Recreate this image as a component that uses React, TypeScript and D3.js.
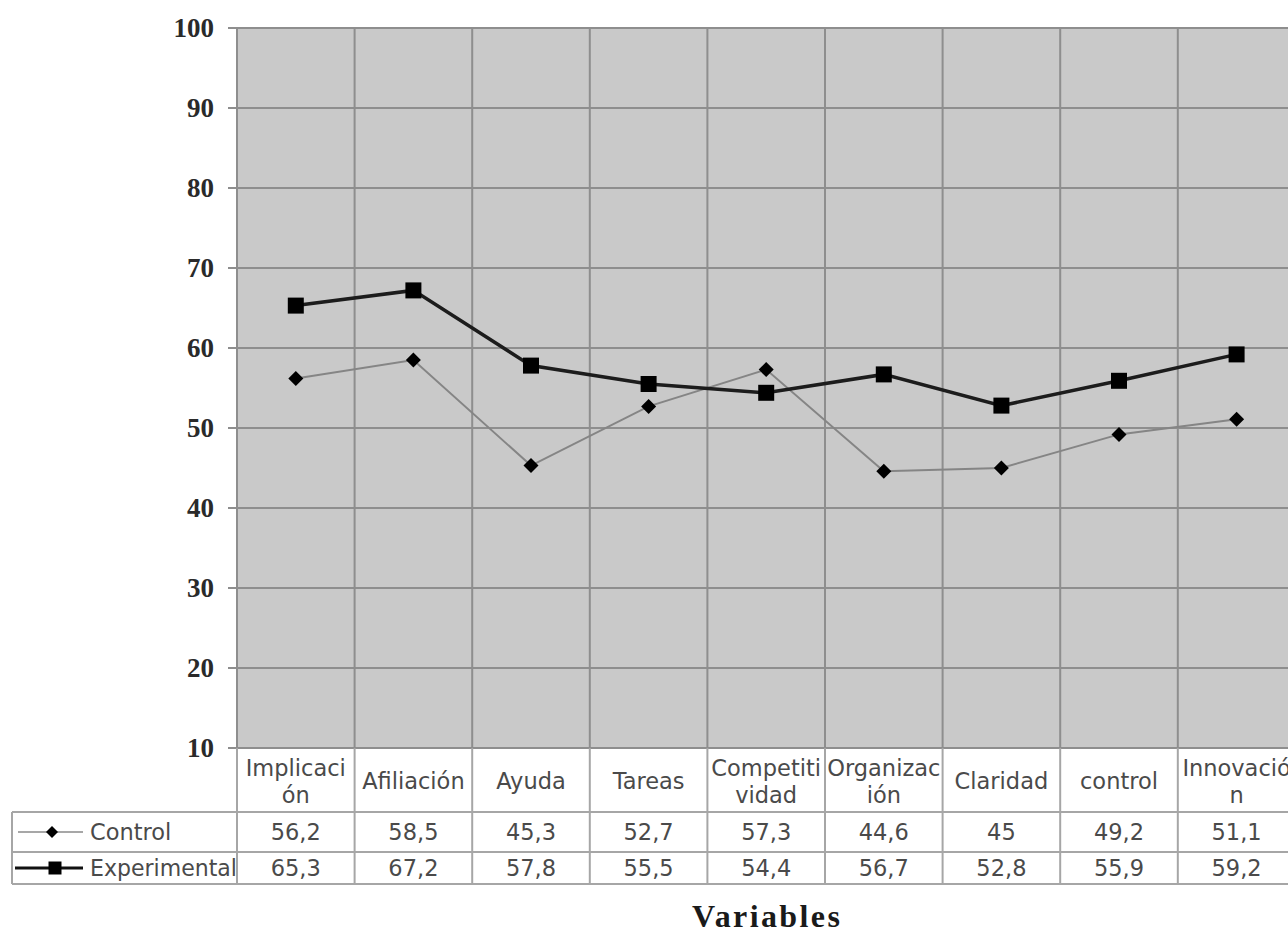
import React from "react";
import * as d3 from "d3";

// Climate dimensions compared between the two groups
const categories = [
  "Implicación",
  "Afiliación",
  "Ayuda",
  "Tareas",
  "Competitividad",
  "Organización",
  "Claridad",
  "control",
  "Innovación",
];

// Header text as it wraps inside each table cell
const categoryLines = [
  ["Implicaci", "ón"],
  ["Afiliación"],
  ["Ayuda"],
  ["Tareas"],
  ["Competiti", "vidad"],
  ["Organizac", "ión"],
  ["Claridad"],
  ["control"],
  ["Innovació", "n"],
];

const controlValues = [56.2, 58.5, 45.3, 52.7, 57.3, 44.6, 45, 49.2, 51.1];
const experimentalValues = [65.3, 67.2, 57.8, 55.5, 54.4, 56.7, 52.8, 55.9, 59.2];

const yTicks = [10, 20, 30, 40, 50, 60, 70, 80, 90, 100];

const W = 1288;
const H = 934;
const plotLeft = 237;
const cellW = 117.6;
const plotTop = 28;
const plotBottom = 748;
const headerBottom = 812;
const row1Bottom = 852;
const row2Bottom = 884;
const tableLeft = 12;

const tableFont = "'DejaVu Sans', Verdana, sans-serif";
const serifFont = "'Liberation Serif', 'Times New Roman', serif";
const tableSize = 22.5;

const fmt = (v: number) => String(v).replace(".", ",");

export default function App() {
  const x = d3
    .scaleBand<string>()
    .domain(categories)
    .range([plotLeft, plotLeft + cellW * categories.length])
    .padding(0);
  const y = d3.scaleLinear().domain([10, 100]).range([plotBottom, plotTop]);

  const cx = (c: string) => (x(c) as number) + x.bandwidth() / 2;
  const plotRight = plotLeft + cellW * categories.length;

  const line = d3
    .line<number>()
    .x((_, i) => cx(categories[i]))
    .y((v) => y(v));

  const diamond = "M0,-7.5L7.5,0L0,7.5L-7.5,0Z";
  const square = d3.symbol(d3.symbolSquare, 16 * 16)() as string;
  const legendSquare = d3.symbol(d3.symbolSquare, 13 * 13)() as string;

  const boundaries = categories.map((c) => x(c) as number).concat([plotRight]);

  const gridColor = "#8e8e8e";
  const tableLine = "#a6a6a6";
  const textColor = "#4a4a4a";

  const row1Y = (headerBottom + row1Bottom) / 2;
  const row2Y = (row1Bottom + row2Bottom) / 2;

  return (
    <svg
      width={W}
      height={H}
      style={{ position: "absolute", left: 0, top: 0, background: "#fff" }}
    >
      {/* plot background */}
      <rect
        x={plotLeft}
        y={plotTop}
        width={plotRight - plotLeft}
        height={plotBottom - plotTop}
        fill="#c9c9c9"
      />

      {/* horizontal gridlines + ticks + labels */}
      {yTicks.map((t) => (
        <g key={t}>
          <line
            x1={plotLeft}
            x2={plotRight}
            y1={y(t)}
            y2={y(t)}
            stroke={gridColor}
            strokeWidth={2}
          />
          <line
            x1={plotLeft - 9}
            x2={plotLeft}
            y1={y(t)}
            y2={y(t)}
            stroke={gridColor}
            strokeWidth={2}
          />
          <text
            x={214}
            y={y(t)}
            textAnchor="end"
            dominantBaseline="central"
            fontFamily={serifFont}
            fontWeight="bold"
            fontSize={27}
            fill="#2a2a2a"
          >
            {t}
          </text>
        </g>
      ))}

      {/* vertical gridlines through plot and table */}
      {boundaries.map((bx, i) => (
        <g key={i}>
          <line
            x1={bx}
            x2={bx}
            y1={plotTop}
            y2={plotBottom}
            stroke={gridColor}
            strokeWidth={2}
          />
          <line
            x1={bx}
            x2={bx}
            y1={plotBottom}
            y2={row2Bottom}
            stroke={tableLine}
            strokeWidth={2}
          />
        </g>
      ))}

      {/* table horizontal rules */}
      {[headerBottom, row1Bottom, row2Bottom].map((ry) => (
        <line
          key={ry}
          x1={tableLeft}
          x2={plotRight}
          y1={ry}
          y2={ry}
          stroke={tableLine}
          strokeWidth={2}
        />
      ))}
      <line
        x1={tableLeft}
        x2={tableLeft}
        y1={headerBottom}
        y2={row2Bottom}
        stroke={tableLine}
        strokeWidth={2}
      />

      {/* header labels */}
      {categories.map((c, i) => {
        const lines = categoryLines[i];
        const mid = (plotBottom + headerBottom) / 2 + 1;
        const lh = 27;
        const start = mid - ((lines.length - 1) * lh) / 2;
        return (
          <text
            key={c}
            x={cx(c)}
            textAnchor="middle"
            fontFamily={tableFont}
            fontSize={tableSize}
            fill={textColor}
          >
            {lines.map((l, j) => (
              <tspan key={j} x={cx(c)} y={start + j * lh} dominantBaseline="central">
                {l}
              </tspan>
            ))}
          </text>
        );
      })}

      {/* table values */}
      {categories.map((c, i) => (
        <g key={c}>
          <text
            x={cx(c)}
            y={row1Y}
            textAnchor="middle"
            dominantBaseline="central"
            fontFamily={tableFont}
            fontSize={tableSize}
            fill={textColor}
          >
            {fmt(controlValues[i])}
          </text>
          <text
            x={cx(c)}
            y={row2Y}
            textAnchor="middle"
            dominantBaseline="central"
            fontFamily={tableFont}
            fontSize={tableSize}
            fill={textColor}
          >
            {fmt(experimentalValues[i])}
          </text>
        </g>
      ))}

      {/* legend keys inside the table */}
      <line x1={18} x2={83} y1={row1Y} y2={row1Y} stroke="#8a8a8a" strokeWidth={1.5} />
      <path d={"M0,-6L6,0L0,6L-6,0Z"} transform={`translate(52,${row1Y})`} fill="#000" />
      <text
        x={90}
        y={row1Y}
        dominantBaseline="central"
        fontFamily={tableFont}
        fontSize={tableSize}
        fill={textColor}
      >
        Control
      </text>
      <line x1={15} x2={83} y1={row2Y} y2={row2Y} stroke="#111" strokeWidth={3} />
      <path d={legendSquare} transform={`translate(55,${row2Y})`} fill="#000" />
      <text
        x={90}
        y={row2Y}
        dominantBaseline="central"
        fontFamily={tableFont}
        fontSize={tableSize}
        fill={textColor}
        textLength={147}
        lengthAdjust="spacingAndGlyphs"
      >
        Experimental
      </text>

      {/* series */}
      <path d={line(controlValues) as string} fill="none" stroke="#858585" strokeWidth={2} />
      <path
        d={line(experimentalValues) as string}
        fill="none"
        stroke="#1c1c1c"
        strokeWidth={3.5}
      />
      {controlValues.map((v, i) => (
        <path
          key={"c" + i}
          d={diamond}
          transform={`translate(${cx(categories[i])},${y(v)})`}
          fill="#000"
        />
      ))}
      {experimentalValues.map((v, i) => (
        <path
          key={"e" + i}
          d={square}
          transform={`translate(${cx(categories[i])},${y(v)})`}
          fill="#000"
        />
      ))}

      {/* axis title */}
      <text
        x={(plotLeft + plotRight) / 2 + 1}
        y={927}
        textAnchor="middle"
        fontFamily={serifFont}
        fontWeight="bold"
        fontSize={32}
        letterSpacing={2.4}
        fill="#1a1a1a"
      >
        Variables
      </text>
    </svg>
  );
}
